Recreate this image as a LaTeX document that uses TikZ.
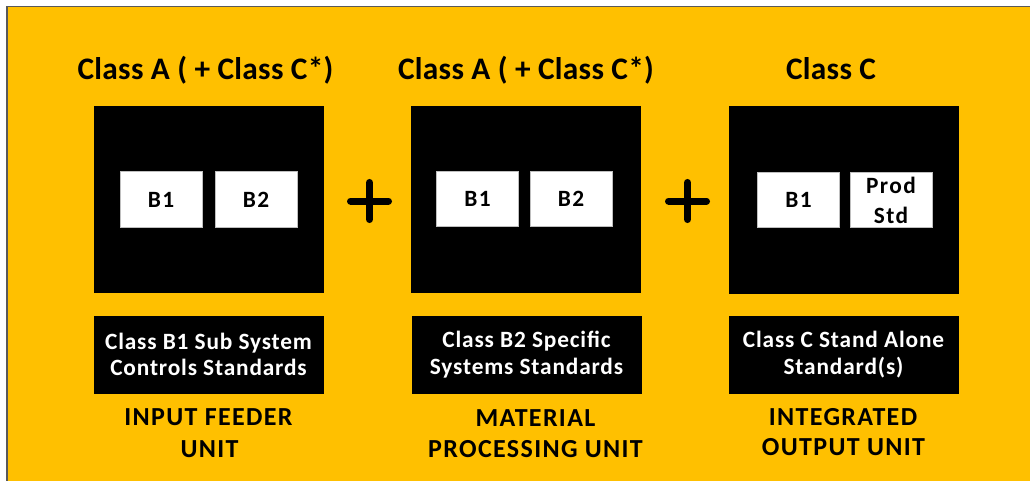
\documentclass[tikz,border=0pt]{standalone}
\usepackage{fontspec}
\setmainfont{Carlito}
\definecolor{gold}{HTML}{FFC000}
\definecolor{framegray}{HTML}{595959}
\begin{document}
\begin{tikzpicture}[x=0.75pt,y=-0.75pt,
  unitbox/.style={fill=black, draw=black, inner sep=0pt,
    minimum width=171.75pt, minimum height=139.9pt},
  stdbox/.style={fill=white, draw=black!25, line width=0.5pt, inner sep=0pt,
    minimum width=61.5pt, minimum height=41.6pt, align=center,
    font=\bfseries\fontsize{17.5}{22.5}\selectfont\addfontfeatures{LetterSpace=6}},
  descbox/.style={fill=black, draw=black, inner sep=0pt, text=white,
    minimum width=171.75pt, minimum height=58.1pt, align=center,
    font=\bfseries\fontsize{17.5}{20}\selectfont\addfontfeatures{LetterSpace=3.6}},
  classtitle/.style={anchor=base, inner sep=0pt,
    font=\bfseries\fontsize{23.5}{28}\selectfont\addfontfeatures{LetterSpace=1}},
  unitlabel/.style={anchor=base, inner sep=0pt,
    font=\bfseries\fontsize{19.5}{22.5}\selectfont\addfontfeatures{LetterSpace=5.2}},
  plussign/.style={line width=5.25pt, line cap=round}]
\useasboundingbox (0,0) rectangle (1030,481);
% background panel and its frame
\fill[gold] (7,6.5) rectangle (1030,481);
\draw[framegray, line width=0.9pt] (7,481) -- (7,6.5) -- (1030,6.5);

% class titles
\node[classtitle] (t1) at (205.5,80) {Class A ( + Class C*)};
\node[classtitle] (t2) at (526,80) {Class A ( + Class C*)};
\node[classtitle] (t3) at (831,80) {Class C};

% unit boxes
\node[unitbox] (u1) at (208.5,199.2) {};
\node[unitbox] (u2) at (526.2,199.3) {};
\node[unitbox] (u3) at (843.5,199.5) {};

% standards inside each unit
\node[stdbox] (u1b1) at (161,199.5) {B1};
\node[stdbox] (u1b2) at (256,199.5) {B2};
\node[stdbox] (u2b1) at (477.5,199) {B1};
\node[stdbox] (u2b2) at (571,199) {B2};
\node[stdbox] (u3b1) at (798.5,200) {B1};
\node[stdbox] (u3ps) at (891,200) {Prod\\Std};

% plus signs between units
\coordinate (p1) at (369.5,201);
\coordinate (p2) at (687.5,201);
\foreach \p in {p1,p2}{
  \draw[plussign] ([xshift=-14.25pt]\p) -- ([xshift=14.25pt]\p);
  \draw[plussign] ([yshift=-13.9pt]\p) -- ([yshift=13.9pt]\p);
}

% description boxes
\node[descbox] (d1) at (208.5,354.5) {Class B1 Sub System\\Controls Standards};
\node[descbox] (d2) at (526.5,354.5) {Class B2 Specific\\Systems Standards};
\node[descbox] (d3) at (843.5,354.5) {Class C Stand Alone\\Standard(s)};

% unit names
\node[unitlabel] (n1a) at (208.5,425) {INPUT FEEDER};
\node[unitlabel] (n1b) at (209.5,457) {UNIT};
\node[unitlabel] (n2a) at (535.5,426) {MATERIAL};
\node[unitlabel] (n2b) at (535.5,457) {PROCESSING UNIT};
\node[unitlabel] (n3a) at (843,425) {INTEGRATED};
\node[unitlabel] (n3b) at (843.5,455) {OUTPUT UNIT};
\end{tikzpicture}
\end{document}
